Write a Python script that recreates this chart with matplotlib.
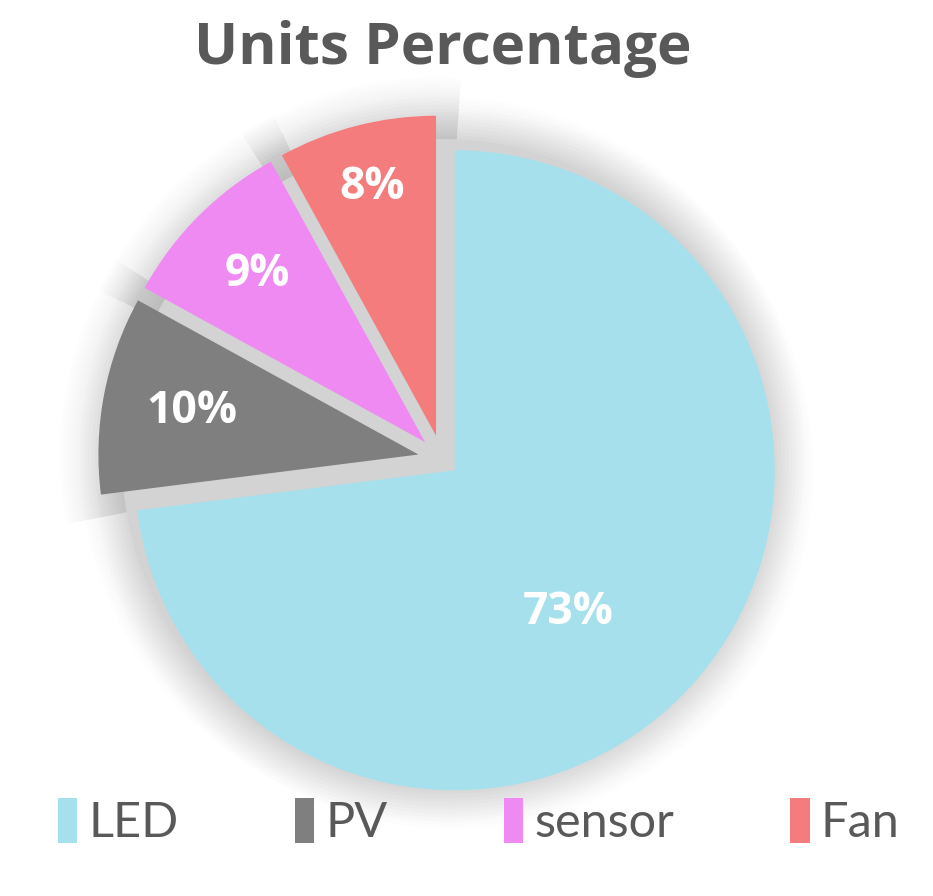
import numpy as np
import matplotlib.pyplot as plt
from matplotlib.patches import Wedge, Circle

# data
labels = ['LED', 'PV', 'sensor', 'Fan']
values = [73, 10, 9, 8]
colors = ['#a6e0ec', '#7f7f7f', '#ef8af2', '#f47c7c']
explode = [0.053, 0.075, 0.075, 0.075]

# label placement (fraction of radius, angle tweak in degrees)
label_r = [0.57, 0.72, 0.74, 0.80]
label_turn = [-10, 0, 0, 0]

plt.rcParams['font.family'] = ['Open Sans', 'DejaVu Sans']

fig = plt.figure(figsize=(9.33, 8.96), dpi=100)
ax = fig.add_axes([0, 0, 1, 1])

wedges, texts, autotexts = ax.pie(
    values, colors=colors, explode=explode, startangle=90, counterclock=False,
    autopct='%d%%', radius=1.0,
    wedgeprops=dict(edgecolor='none', linewidth=0, zorder=3),
    textprops=dict(color='white', fontsize=32, fontweight='bold'))

for w, t, rr, turn in zip(wedges, autotexts, label_r, label_turn):
    a = np.deg2rad((w.theta1 + w.theta2) / 2 + turn)
    cx, cy = w.center
    t.set_position((cx + rr * w.r * np.cos(a), cy + rr * w.r * np.sin(a)))
    t.set_zorder(5)

# grey shadow under the pie, shows in the gaps between slices
ax.add_patch(Circle((0, 0), 1.0, facecolor='#d3d3d3', edgecolor='none', zorder=1))

# soft glow around the pie
for k in range(1, 12):
    ax.add_patch(Circle((0, 0), 1.0 + 0.012 * k, facecolor='black',
                        edgecolor='none', alpha=0.008, zorder=0))
for w in wedges:
    for k in range(1, 12):
        g = Wedge(w.center, w.r * (1 + 0.011 * k), w.theta1 - 4, w.theta2 + 4,
                  facecolor='black', edgecolor='none', alpha=0.007, zorder=0)
        ax.add_patch(g)

# scale: 320 px per unit, pie centre at pixel (442, 459)
ax.set_xlim(-442 / 320, (933 - 442) / 320)
ax.set_ylim(-(896 - 459) / 320, 459 / 320)
ax.set_aspect('auto')
ax.axis('off')

fig.text(0.475, 0.945, 'Units Percentage', ha='center', va='center',
         fontsize=42, fontweight='bold', color='#595959')

leg = ax.legend(wedges, labels, ncol=4, loc='lower center',
                bbox_to_anchor=(0.513, 0.008), frameon=False,
                handlelength=0.4, handleheight=1.05, handletextpad=0.22,
                columnspacing=2.4,
                prop={'family': ['Lato', 'DejaVu Sans'], 'size': 35})
for t in leg.get_texts():
    t.set_color('#595959')
for h in leg.legend_handles:
    h.set_edgecolor('none')

fig.savefig('out.png', dpi=100, facecolor='white')
